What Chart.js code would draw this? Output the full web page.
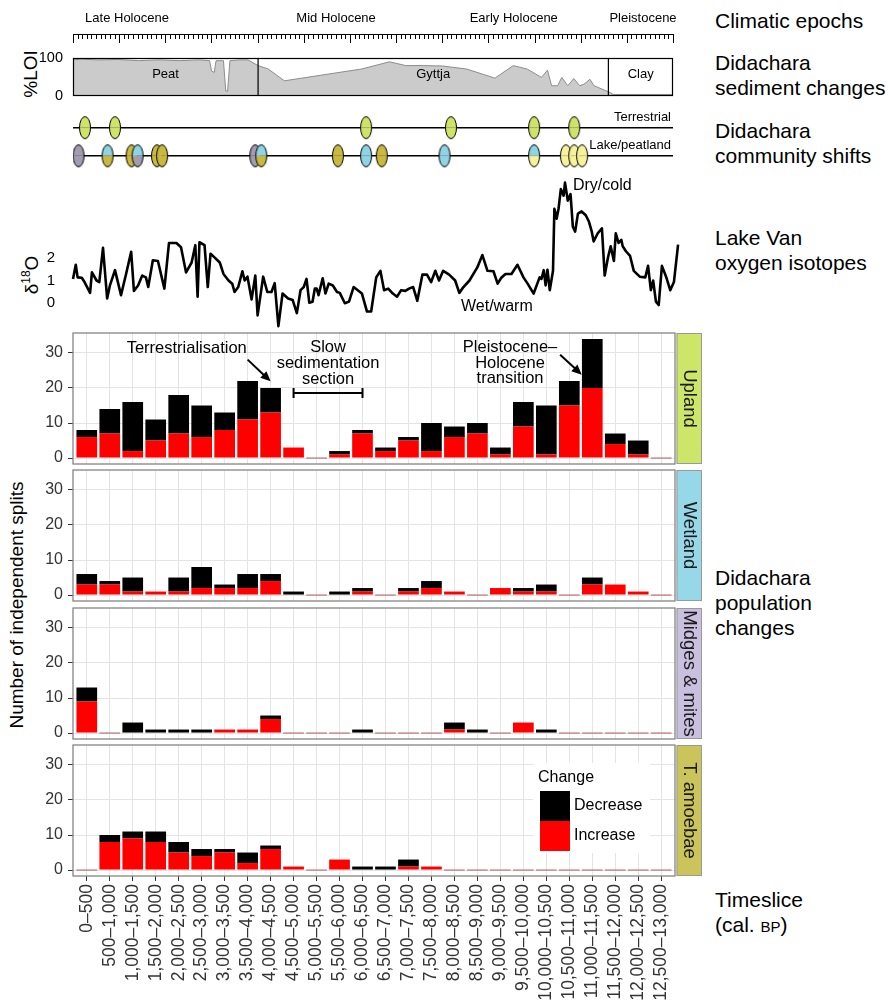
<!DOCTYPE html>
<html lang="en">
<head>
<meta charset="UTF-8">
<title>Didachara population changes</title>
<script src="https://cdn.jsdelivr.net/npm/chart.js@4.4.0/dist/chart.umd.min.js"></script>
<style>
body { margin: 0; background: #fff; font-family: "Liberation Sans", Arial, sans-serif; }
#page { position: relative; width: 888px; height: 1003px; overflow: hidden; background: #fff; }
#page canvas { position: absolute; left: 0; }
.side { position: absolute; left: 715px; font-size: 21px; line-height: 25px; color: #000; white-space: nowrap; }
.sc { font-variant: small-caps; }
.vtitle { position: absolute; font-size: 19px; color: #000; white-space: nowrap;
          transform: translate(-50%, -50%) rotate(-90deg); }
.sup { font-size: 12px; position: relative; top: -8px; }
</style>
</head>
<body>
<div id="page">
    <div class="side" style="top:8px">Climatic epochs</div>
    <div class="side" style="top:50px">Didachara<br>sediment changes</div>
    <div class="side" style="top:118px">Didachara<br>community shifts</div>
    <div class="side" style="top:225px">Lake Van<br>oxygen isotopes</div>
    <div class="side" style="top:565px">Didachara<br>population<br>changes</div>
    <div class="side" style="top:887px">Timeslice<br>(cal. <span class="sc">bp</span>)</div>
    <div class="vtitle" style="left:31px;top:74px">%LOI</div>
    <div class="vtitle" style="left:32px;top:275px">δ<span class="sup">18</span>O</div>
    <div class="vtitle" style="left:17px;top:605px">Number of independent splits</div>
</div>

<script>
// ---- data ----
const timeStart = 0, timeEnd = 13000;
const isoEnd = 13110;   // isotope record runs slightly past the last timeslice

const epochNames = ['Late Holocene', 'Mid Holocene', 'Early Holocene', 'Pleistocene'];
const epochLabelYears = [1170, 5700, 9550, 12350];

const loiYears = [0,190,540,980,1420,1860,2300,2740,2960,3000,3060,3100,3260,3310,3350,3400,3610,3790,4010,4230,
    4580,6250,6860,7210,7560,8000,8530,9140,9540,9840,10150,10280,10370,10500,10590,10720,10850,10980,11070,11200,
    11290,11640,11700,13000];
const loiValues = [95,97,95,96,93,95,93,95,93,66,62,93,93,13,13,93,95,95,80,71,
    40,71,90,80,80,79,71,47,80,71,49,68,27,27,49,27,46,27,31,44,
    27,9,4,4];
const loiTicks = [0, 100];
const sedimentNames = ['Peat', 'Gyttja', 'Clay'];
const sedimentBounds = [0, 4010, 11600, 13000];

const terrestrialShiftYears = [260, 910, 6350, 8190, 9990, 10860];
const lakeShiftYears = [120,750,1270,1400,1820,1930,3950,4080,5740,6350,6690,8050,9990,10680,10860,11030];
const lakeShiftTop = ['grey','blue','olive','blue','olive','olive','grey','blue','olive','blue','olive','blue','blue','pale','pale','pale'];
const lakeShiftBottom = ['grey','olive','olive','grey','olive','olive','grey','olive','olive','blue','olive','blue','pale','pale','pale','pale'];

const isoYears = [0,60,100,190,250,370,410,510,570,650,740,800,910,1040,1150,1260,1320,1410,1500,1580,
    1630,1730,1840,1980,2080,2240,2340,2450,2570,2650,2700,2740,2850,2920,2980,3060,3180,3260,3370,3450,
    3500,3580,3670,3720,3780,3870,3950,4000,4120,4210,4300,4370,4450,4540,4660,4760,4850,4930,5000,5060,
    5120,5190,5240,5280,5320,5410,5470,5540,5630,5720,5780,5890,5980,6080,6170,6260,6370,6460,6570,6660,
    6740,6830,6930,7020,7110,7200,7280,7370,7460,7570,7670,7760,7850,7930,8020,8150,8280,8370,8460,8590,
    8760,8870,8980,9110,9200,9280,9370,9500,9630,9760,9850,9980,10110,10150,10200,10240,10280,10330,10400,10430,
    10480,10520,10570,10630,10660,10720,10780,10830,10880,10940,11020,11110,11180,11240,11280,11370,11460,11520,11590,11650,
    11720,11760,11820,11880,11910,11980,12070,12150,12280,12400,12460,12520,12570,12630,12690,12760,12850,12940,13020,13110];
const isoValues = [1.07,1.70,1.14,1.12,0.93,0.45,1.36,1.00,0.93,2.45,0.20,0.78,1.46,0.35,1.29,2.28,0.54,0.78,1.22,1.14,
    0.71,1.90,1.87,0.64,2.67,2.67,2.48,1.36,1.80,2.57,0.28,2.70,2.57,0.71,2.19,2.04,1.80,1.29,1.00,0.86,
    0.49,0.71,1.41,1.00,1.17,0.16,1.22,-0.55,1.17,0.49,0.49,0.88,-1.03,0.42,0.20,0.13,-0.45,0.57,0.71,1.07,
    0.01,0.06,0.64,0.64,0.35,1.10,0.42,0.86,0.78,0.49,0.45,-0.01,0.06,0.71,0.57,0.42,-0.38,-0.38,1.14,1.43,
    0.57,0.64,0.42,0.28,0.57,0.54,0.64,0.71,0.10,1.26,1.26,0.93,1.43,1.00,1.43,1.26,1.00,0.45,0.71,1.00,
    1.58,2.13,1.43,1.41,0.86,1.12,1.29,1.29,1.70,1.14,0.86,0.42,1.14,1.07,1.46,0.78,1.48,0.57,1.43,4.19,
    3.75,4.19,5.06,4.77,5.35,4.55,4.84,3.39,3.17,3.97,4.07,3.90,3.61,3.17,2.74,3.10,3.32,1.22,2.01,2.52,
    1.87,3.10,2.67,2.81,2.52,2.30,2.09,1.43,1.17,1.14,1.65,0.57,1.00,0.06,-0.09,1.65,1.17,0.57,0.93,2.59];
const isoTicks = [0, 1, 2];

const timeslices = ['0–500','500–1,000','1,000–1,500','1,500–2,000','2,000–2,500','2,500–3,000','3,000–3,500',
    '3,500–4,000','4,000–4,500','4,500–5,000','5,000–5,500','5,500–6,000','6,000–6,500','6,500–7,000',
    '7,000–7,500','7,500–8,000','8,000–8,500','8,500–9,000','9,000–9,500','9,500–10,000','10,000–10,500',
    '10,500–11,000','11,000–11,500','11,500–12,000','12,000–12,500','12,500–13,000'];

const uplandIncrease  = [6,7,2,5,7,6,8,11,13,3,0,1,7,2,5,2,6,7,1,9,1,15,20,4,1,0];
const uplandDecrease  = [2,7,14,6,11,9,5,11,7,0,0,1,1,1,1,8,3,3,2,7,14,7,14,3,4,0];
const wetlandIncrease = [3,3,1,1,1,2,2,2,4,0,0,0,1,0,1,2,1,0,2,1,1,0,3,3,1,0];
const wetlandDecrease = [3,1,4,0,4,6,1,4,2,1,0,1,1,0,1,2,0,0,0,1,2,0,2,0,0,0];
const midgesIncrease  = [9,0,0,0,0,0,1,1,4,0,0,0,0,0,0,0,1,0,0,3,0,0,0,0,0,0];
const midgesDecrease  = [4,0,3,1,1,1,0,0,1,0,0,0,1,0,0,0,2,1,0,0,1,0,0,0,0,0];
const amoebaeIncrease = [0,8,9,8,5,4,5,2,6,1,0,3,0,0,1,1,0,0,0,0,0,0,0,0,0,0];
const amoebaeDecrease = [0,2,2,3,3,2,1,3,1,0,0,0,1,1,2,0,0,0,0,0,0,0,0,0,0,0];

// ---- setup ----
const FONT = '"Liberation Sans", Arial, sans-serif';
Chart.defaults.font.family = FONT;
Chart.defaults.animation = false;
Chart.defaults.responsive = false;
Chart.defaults.plugins.legend.display = false;
Chart.defaults.plugins.tooltip.enabled = false;

const PAGE_W = 888;
const TIME_LEFT = 73;
const TIME_RIGHT = 673;   // right edge of time-axis panels
const BAR_RIGHT = 675;    // right edge of facet panels
const ISO_RIGHT = TIME_LEFT + (TIME_RIGHT - TIME_LEFT) * isoEnd / timeEnd;

const shiftColors = { terrestrial: '#cde36a', grey: '#a39cb0', blue: '#8fd4e4', olive: '#c9b940', pale: '#f6f29c' };
const INCREASE = '#ff0000', DECREASE = '#000000';

function makeCanvas(top, height) {
    const c = document.createElement('canvas');
    c.width = PAGE_W;
    c.height = height;
    c.style.top = top + 'px';
    document.getElementById('page').appendChild(c);
    return c.getContext('2d');
}

// fixes an axis box size so chart areas land where they should
function fixSize(w, h) {
    return s => {
        if (w != null) s.width = w;
        if (h != null) s.height = h;
        s.paddingTop = s.paddingBottom = s.paddingLeft = s.paddingRight = 0;
    };
}

function makeOval(topColor, bottomColor) {
    const c = document.createElement('canvas');
    c.width = 14; c.height = 25;
    const g = c.getContext('2d');
    g.save();
    g.beginPath(); g.ellipse(7, 12.5, 5.5, 11, 0, 0, Math.PI * 2); g.clip();
    g.fillStyle = topColor; g.fillRect(0, 0, 14, 12.5);
    g.fillStyle = bottomColor; g.fillRect(0, 12.5, 14, 13);
    g.restore();
    g.beginPath(); g.ellipse(7, 12.5, 5.5, 11, 0, 0, Math.PI * 2);
    g.strokeStyle = '#000'; g.lineWidth = 1; g.stroke();
    return c;
}

const hiddenTime = { type: 'linear', min: timeStart, max: timeEnd, display: false };

// ---- climatic epochs ruler ----
new Chart(makeCanvas(0, 50), {
    type: 'scatter',
    data: { datasets: [{ data: [] }] },
    options: {
        layout: { padding: { left: TIME_LEFT, right: PAGE_W - TIME_RIGHT, top: 34, bottom: 6 } },
        scales: { x: hiddenTime, y: { display: false } }
    },
    plugins: [{
        id: 'ruler',
        afterDraw(chart) {
            const { ctx, chartArea: a, scales: { x } } = chart;
            ctx.save();
            ctx.strokeStyle = '#000';
            ctx.lineWidth = 1;
            ctx.beginPath();
            ctx.moveTo(a.left, a.top + 0.5);
            ctx.lineTo(a.right, a.top + 0.5);
            for (let t = timeStart; t <= timeEnd; t += 100) {
                const px = Math.round(x.getPixelForValue(t)) + 0.5;
                ctx.moveTo(px, a.top);
                ctx.lineTo(px, a.top + (t % 1000 === 0 ? 9 : 5));
            }
            ctx.stroke();
            ctx.fillStyle = '#000';
            ctx.font = '13px ' + FONT;
            ctx.textAlign = 'center';
            ctx.textBaseline = 'middle';
            epochNames.forEach((n, i) => ctx.fillText(n, x.getPixelForValue(epochLabelYears[i]), a.top - 16));
            ctx.restore();
        }
    }]
});

// ---- sediment (%LOI) ----
new Chart(makeCanvas(48, 56), {
    type: 'line',
    data: {
        datasets: [{
            data: loiYears.map((t, i) => ({ x: t, y: loiValues[i] })),
            fill: 'origin', backgroundColor: '#cbcbcb', borderColor: '#8c8c8c',
            borderWidth: 1, pointRadius: 0, tension: 0
        }]
    },
    options: {
        layout: { padding: { left: 0, right: PAGE_W - TIME_RIGHT, top: 10, bottom: 8 } },
        scales: {
            x: hiddenTime,
            y: {
                min: 0, max: 100,
                afterFit: fixSize(TIME_LEFT, null),
                afterBuildTicks: s => { s.ticks = loiTicks.map(v => ({ value: v })); },
                grid: { display: false }, border: { display: false },
                ticks: { font: { size: 14.5 }, color: '#000', padding: 2 }
            }
        }
    },
    plugins: [{
        id: 'sediments',
        afterDraw(chart) {
            const { ctx, chartArea: a, scales: { x, y } } = chart;
            ctx.save();
            ctx.strokeStyle = '#000';
            ctx.lineWidth = 1.2;
            ctx.strokeRect(a.left + 0.5, a.top + 0.5, a.right - a.left - 1, a.bottom - a.top - 1);
            ctx.beginPath();
            sedimentBounds.slice(1, -1).forEach(b => {
                const px = x.getPixelForValue(b);
                ctx.moveTo(px, a.top); ctx.lineTo(px, a.bottom);
            });
            ctx.stroke();
            ctx.fillStyle = '#000';
            ctx.font = '13px ' + FONT;
            ctx.textAlign = 'center';
            ctx.textBaseline = 'middle';
            sedimentNames.forEach((n, i) => {
                const mid = (sedimentBounds[i] + sedimentBounds[i + 1]) / 2;
                ctx.fillText(n, x.getPixelForValue(mid), y.getPixelForValue(58));
            });
            ctx.restore();
        }
    }]
});

// ---- community shifts ----
new Chart(makeCanvas(100, 75), {
    type: 'scatter',
    data: {
        datasets: [
            {
                data: terrestrialShiftYears.map(t => ({ x: t, y: 1 })),
                pointStyle: terrestrialShiftYears.map(() => makeOval(shiftColors.terrestrial, shiftColors.terrestrial)),
                pointRadius: 6, order: 1
            },
            {
                data: lakeShiftYears.map(t => ({ x: t, y: 0 })),
                pointStyle: lakeShiftYears.map((t, i) => makeOval(shiftColors[lakeShiftTop[i]], shiftColors[lakeShiftBottom[i]])),
                pointRadius: 6, order: 1
            },
            { type: 'line', data: [{ x: timeStart, y: 1 }, { x: timeEnd, y: 1 }], borderColor: '#000', borderWidth: 1.5, pointRadius: 0, order: 2 },
            { type: 'line', data: [{ x: timeStart, y: 0 }, { x: timeEnd, y: 0 }], borderColor: '#000', borderWidth: 1.5, pointRadius: 0, order: 2 }
        ]
    },
    options: {
        layout: { padding: { left: TIME_LEFT, right: PAGE_W - TIME_RIGHT, top: 5, bottom: 5 } },
        scales: { x: hiddenTime, y: { min: -0.433, max: 1.733, display: false } }
    },
    plugins: [{
        id: 'shiftLabels',
        afterDraw(chart) {
            const { ctx, chartArea: a, scales: { y } } = chart;
            ctx.save();
            ctx.fillStyle = '#000';
            ctx.font = '13px ' + FONT;
            ctx.textAlign = 'right';
            ctx.textBaseline = 'middle';
            ctx.fillText('Terrestrial', a.right - 2, y.getPixelForValue(1) - 10);
            ctx.fillText('Lake/peatland', a.right - 2, y.getPixelForValue(0) - 10);
            ctx.restore();
        }
    }]
});

// ---- Lake Van oxygen isotopes ----
new Chart(makeCanvas(170, 170), {
    type: 'line',
    data: {
        datasets: [{
            data: isoYears.map((t, i) => ({ x: t, y: isoValues[i] })),
            borderColor: '#000', borderWidth: 2.6, pointRadius: 0, tension: 0,
            clip: false, borderJoinStyle: 'round'
        }]
    },
    options: {
        layout: { padding: { left: 0, right: PAGE_W - ISO_RIGHT, top: 7, bottom: 5.5 } },
        scales: {
            x: { type: 'linear', min: timeStart, max: isoEnd, display: false },
            y: {
                min: -1.4, max: 5.6,
                afterFit: fixSize(TIME_LEFT, null),
                afterBuildTicks: s => { s.ticks = isoTicks.map(v => ({ value: v })); },
                grid: { display: false }, border: { display: false },
                ticks: { font: { size: 15 }, color: '#000', padding: 10 }
            }
        }
    },
    plugins: [{
        id: 'isoLabels',
        afterDraw(chart) {
            const { ctx, scales: { x, y } } = chart;
            ctx.save();
            ctx.fillStyle = '#000';
            ctx.font = '16px ' + FONT;
            ctx.textAlign = 'left';
            ctx.textBaseline = 'middle';
            ctx.fillText('Dry/cold', x.getPixelForValue(10833), y.getPixelForValue(5.2));
            ctx.fillText('Wet/warm', x.getPixelForValue(8407), y.getPixelForValue(-0.18));
            ctx.restore();
        }
    }]
});

// ---- population change facets ----
function drawArrow(ctx, x0, y0, x1, y1) {
    const ang = Math.atan2(y1 - y0, x1 - x0);
    ctx.beginPath();
    ctx.moveTo(x0, y0);
    ctx.lineTo(x1 - 6 * Math.cos(ang), y1 - 6 * Math.sin(ang));
    ctx.lineWidth = 2;
    ctx.stroke();
    ctx.beginPath();
    ctx.moveTo(x1, y1);
    ctx.lineTo(x1 - 10 * Math.cos(ang) + 4.5 * Math.sin(ang), y1 - 10 * Math.sin(ang) - 4.5 * Math.cos(ang));
    ctx.lineTo(x1 - 10 * Math.cos(ang) - 4.5 * Math.sin(ang), y1 - 10 * Math.sin(ang) + 4.5 * Math.cos(ang));
    ctx.closePath();
    ctx.fill();
}

const uplandNotes = {
    id: 'uplandNotes',
    afterDraw(chart) {
        const { ctx, scales: { x, y } } = chart;
        ctx.save();
        ctx.fillStyle = '#000';
        ctx.strokeStyle = '#000';
        ctx.font = '16.5px ' + FONT;
        ctx.textAlign = 'center';
        ctx.textBaseline = 'middle';
        ctx.fillText('Terrestrialisation', x.getPixelForValue(4.35), y.getPixelForValue(31.4));
        drawArrow(ctx, x.getPixelForValue(7.0), y.getPixelForValue(28.1), x.getPixelForValue(8.0), y.getPixelForValue(21.9));

        const sx = x.getPixelForValue(10.5), sy = y.getPixelForValue(31.5);
        ['Slow', 'sedimentation', 'section'].forEach((t, i) => ctx.fillText(t, sx, sy + i * 16));
        const bx0 = x.getPixelForValue(9), bx1 = x.getPixelForValue(12), by = y.getPixelForValue(18.6);
        ctx.lineWidth = 2;
        ctx.beginPath();
        ctx.moveTo(bx0, by); ctx.lineTo(bx1, by);
        ctx.moveTo(bx0, by - 5); ctx.lineTo(bx0, by + 5);
        ctx.moveTo(bx1, by - 5); ctx.lineTo(bx1, by + 5);
        ctx.stroke();

        const px = x.getPixelForValue(18.42), py = y.getPixelForValue(31.5);
        ['Pleistocene–', 'Holocene', 'transition'].forEach((t, i) => ctx.fillText(t, px, py + i * 15.5));
        drawArrow(ctx, x.getPixelForValue(20.6), y.getPixelForValue(29.5), x.getPixelForValue(21.54), y.getPixelForValue(23.8));
        ctx.restore();
    }
};

const changeLegend = {
    id: 'changeLegend',
    afterDraw(chart) {
        const { ctx, chartArea: a } = chart;
        const lx = a.left + 460, ly = a.top + 18;
        ctx.save();
        ctx.fillStyle = '#fff';
        ctx.fillRect(lx, ly, 117, 90);
        ctx.fillStyle = '#000';
        ctx.font = '16px ' + FONT;
        ctx.textAlign = 'left';
        ctx.textBaseline = 'middle';
        ctx.fillText('Change', lx + 5, ly + 15);
        const sets = chart.data.datasets.slice().reverse();
        sets.forEach((ds, i) => {
            ctx.fillStyle = ds.backgroundColor;
            ctx.fillRect(lx + 7, ly + 28 + i * 30, 30, 30);
            ctx.fillStyle = '#000';
            ctx.fillText(ds.label, lx + 41, ly + 43 + i * 30);
        });
        ctx.restore();
    }
};

function populationPanel(top, height, name, stripColor, increase, decrease, withAxis, extraPlugins) {
    const canvasTop = top - 4;
    const xAxisH = withAxis ? 127 : 0;
    const canvasH = withAxis ? 1003 - canvasTop : height + 8;
    new Chart(makeCanvas(canvasTop, canvasH), {
        type: 'bar',
        data: {
            datasets: [
                { label: 'Increase', data: increase.map((v, i) => ({ x: i, y: v })), backgroundColor: INCREASE },
                { label: 'Decrease', data: decrease.map((v, i) => ({ x: i, y: v })), backgroundColor: DECREASE }
            ]
        },
        options: {
            datasets: { bar: { barPercentage: 0.9, categoryPercentage: 1, borderWidth: 0 } },
            layout: { padding: { left: 0, right: PAGE_W - BAR_RIGHT, top: 4, bottom: withAxis ? 0 : 4 } },
            scales: {
                x: {
                    type: 'linear', stacked: true, min: -0.6, max: 25.6, offset: false,
                    afterFit: fixSize(null, xAxisH),
                    border: { display: false },
                    grid: { offset: false, color: '#e4e4e4', drawTicks: withAxis, tickColor: '#333', tickLength: 5 },
                    ticks: {
                        display: withAxis, stepSize: 1, includeBounds: false, autoSkip: false,
                        maxRotation: 90, minRotation: 90, padding: 3,
                        font: { size: 17.5 }, color: '#333',
                        callback: v => (Number.isInteger(v) && timeslices[v]) ? timeslices[v] : ''
                    }
                },
                y: {
                    stacked: true, min: -1.7, max: 35.7,
                    afterFit: fixSize(TIME_LEFT, null),
                    border: { display: false },
                    grid: {
                        color: c => (c.tick && c.tick.value % 10 === 0) ? '#e4e4e4' : '#f3f3f3',
                        tickColor: c => (c.tick && c.tick.value % 10 === 0) ? '#333' : 'rgba(0,0,0,0)',
                        tickLength: 5
                    },
                    ticks: {
                        stepSize: 5, includeBounds: false, padding: 5,
                        font: { size: 16 }, color: '#333',
                        callback: v => v % 10 === 0 ? v : ''
                    }
                }
            }
        },
        plugins: [{
            id: 'facet',
            afterDraw(chart) {
                const { ctx, chartArea: a, scales: { y } } = chart;
                ctx.save();
                // zero-height bars still leave a thin line in the original
                const y0 = y.getPixelForValue(0);
                const meta = chart.getDatasetMeta(0);
                ctx.strokeStyle = '#b45a5a';
                ctx.lineWidth = 1;
                increase.forEach((v, i) => {
                    if (v + decrease[i] !== 0) return;
                    const el = meta.data[i];
                    ctx.beginPath();
                    ctx.moveTo(el.x - el.width / 2, y0);
                    ctx.lineTo(el.x + el.width / 2, y0);
                    ctx.stroke();
                });
                // panel border
                ctx.strokeStyle = '#858585';
                ctx.lineWidth = 1.3;
                ctx.strokeRect(a.left, a.top, a.right - a.left, a.bottom - a.top);
                // strip
                const sx = a.right + 1.5, sw = 25.5;
                ctx.fillStyle = stripColor;
                ctx.fillRect(sx, a.top, sw, a.bottom - a.top);
                ctx.strokeStyle = '#9a9a9a';
                ctx.lineWidth = 1;
                ctx.strokeRect(sx + 0.5, a.top + 0.5, sw - 1, a.bottom - a.top - 1);
                ctx.translate(sx + sw / 2, (a.top + a.bottom) / 2);
                ctx.rotate(Math.PI / 2);
                ctx.fillStyle = '#1a1a1a';
                ctx.font = '18.5px ' + FONT;
                ctx.textAlign = 'center';
                ctx.textBaseline = 'middle';
                ctx.fillText(name, 0, 0);
                ctx.restore();
            }
        }].concat(extraPlugins || [])
    });
}

populationPanel(333, 131, 'Upland', '#cde568', uplandIncrease, uplandDecrease, false, [uplandNotes]);
populationPanel(470, 131, 'Wetland', '#96d8e8', wetlandIncrease, wetlandDecrease, false);
populationPanel(608, 131, 'Midges & mites', '#c9bfdf', midgesIncrease, midgesDecrease, false);
populationPanel(745, 131, 'T. amoebae', '#cbc45a', amoebaeIncrease, amoebaeDecrease, true, [changeLegend]);
</script>
</body>
</html>
